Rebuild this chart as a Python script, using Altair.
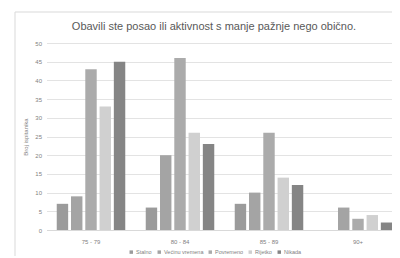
import altair as alt
import pandas as pd

groups = ["75 - 79", "80 - 84", "85 - 89", "90+"]
series = ["Stalno", "Većinu vremena", "Povremeno", "Rijetko", "Nikada"]
colors = ["#9b9b9b", "#a4a4a4", "#ababab", "#d0d0d0", "#858585"]
values = {
    "Stalno":         [7, 6, 7, 0],
    "Većinu vremena": [9, 20, 10, 6],
    "Povremeno":      [43, 46, 26, 3],
    "Rijetko":        [33, 26, 14, 4],
    "Nikada":         [45, 23, 12, 2],
}

rows = []
for s in series:
    for g, v in zip(groups, values[s]):
        rows.append({"grupa": g, "serija": s, "vrijednost": v})
df = pd.DataFrame(rows)

W, H = 345, 187
BAND_RANGE = 356
font = "Liberation Sans"

frame = alt.Chart(pd.DataFrame({"a": [0]})).mark_rect(
    fill=None, stroke="#d9d9d9", strokeWidth=1, clip=False
).encode(
    x=alt.value(-31.5), x2=alt.value(W + 60), y=alt.value(-31), y2=alt.value(H + 60)
)

bars = alt.Chart(df).mark_bar().encode(
    x=alt.X("grupa:N", sort=groups, title=None,
            scale=alt.Scale(paddingInner=0.23, paddingOuter=0.115, range=[0, BAND_RANGE]),
            axis=alt.Axis(labelAngle=0, labelFontSize=6, labelColor="#7f7f7f",
                          labelFont=font, ticks=False, domainColor="#d9d9d9",
                          labelPadding=8)),
    xOffset=alt.XOffset("serija:N", sort=series,
                        scale=alt.Scale(paddingInner=0.2)),
    y=alt.Y("vrijednost:Q", title="Broj ispitanika",
            scale=alt.Scale(domain=[0, 50]),
            axis=alt.Axis(values=list(range(0, 51, 5)), labelFontSize=6,
                          labelColor="#7f7f7f", labelFont=font, ticks=False,
                          domain=False, gridColor="#e3e3e3", labelPadding=5,
                          titleFontSize=6, titleColor="#7f7f7f", titleFont=font,
                          titleFontWeight="normal", titlePadding=6)),
    color=alt.Color("serija:N", sort=series,
                    scale=alt.Scale(domain=series, range=colors),
                    legend=alt.Legend(title=None, orient="none", direction="horizontal",
                                      legendX=82, legendY=206, symbolType="square",
                                      symbolSize=12, labelFontSize=5.5, labelOffset=2,
                                      labelColor="#7f7f7f", labelFont=font,
                                      columnPadding=4, symbolStrokeWidth=0)),
)

chart = alt.layer(frame, bars).properties(
    width=W, height=H,
    title=alt.TitleParams("Obavili ste posao ili aktivnost s manje pažnje nego obično.",
                          fontSize=11, font=font, color="#595959",
                          fontWeight="normal", anchor="middle", dx=-5, offset=-20),
    autosize=alt.AutoSizeParams(type="none"),
    padding={"left": 38.5, "top": 35, "right": 0, "bottom": 26},
).configure_view(stroke=None)

chart.save("out.html", embed_options={"renderer": "svg", "actions": False})
